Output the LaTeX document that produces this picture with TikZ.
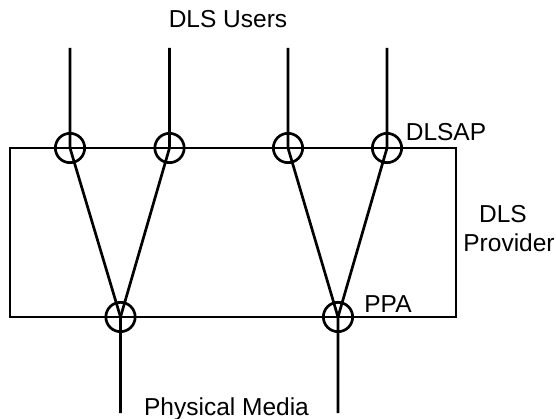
\documentclass[tikz,border=0pt]{standalone}
\usepackage{fontspec}
\setmainfont{Liberation Sans}
\begin{document}
\begin{tikzpicture}[x=1pt,y=-1pt,line width=2.7pt,
  sap/.style={circle,draw,minimum size=29.3pt,inner sep=0pt,line width=2.7pt},
  lab/.style={font=\fontsize{24.5}{28}\selectfont,inner sep=0pt,anchor=base}]
\useasboundingbox (0,0) rectangle (556,419);
\node[sap] (a) at (70,148) {};
\node[sap] (b) at (169.5,148) {};
\node[sap] (c) at (288,148) {};
\node[sap] (d) at (387,148) {};
\node[sap] (e) at (120.5,317) {};
\node[sap] (f) at (338,317) {};
\coordinate (a0) at (70,48);
\coordinate (b0) at (169.5,48);
\coordinate (c0) at (288,48);
\coordinate (d0) at (387,48);
\coordinate (e0) at (120.5,413);
\coordinate (f0) at (338,413);
\draw (10,148) rectangle (456,317);
\draw (a0) -- (a.center) -- (e.center) -- (e0);
\draw (b0) -- (b.center) -- (e.center);
\draw (c0) -- (c.center) -- (f.center) -- (f0);
\draw (d0) -- (d.center) -- (f.center);
\node[lab] (u) at (228,28) {DLS Users};
\node[lab] (s) at (446,141) {DLSAP};
\node[lab] (p1) at (503,223) {DLS};
\node[lab] (p2) at (509,252) {Provider};
\node[lab] (q) at (388,312) {PPA};
\node[lab] (m) at (226.5,415) {Physical Media};
\end{tikzpicture}
\end{document}
